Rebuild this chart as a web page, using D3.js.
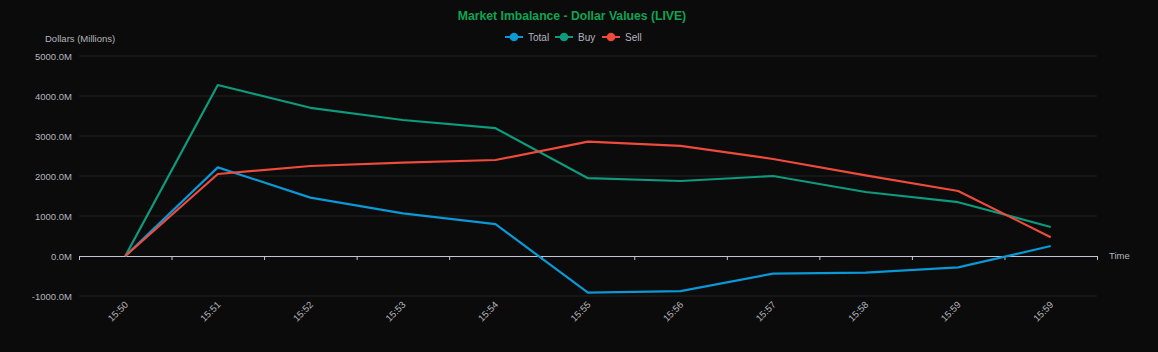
<!DOCTYPE html>
<html>
<head>
<meta charset="utf-8">
<script src="https://cdn.jsdelivr.net/npm/d3@7"></script>
<style>
  html, body { margin: 0; padding: 0; background: #0b0b0b; }
  svg { display: block; font-family: "Liberation Sans", Arial, sans-serif; }
</style>
</head>
<body>
<div id="chart"></div>
<script>
var times = ["15:50", "15:51", "15:52", "15:53", "15:54", "15:55", "15:56", "15:57", "15:58", "15:59", "15:59"];
var totalValues = [0, 2215, 1460, 1065, 795, -915, -880, -440, -415, -285, 250];
var buyValues = [0, 4275, 3705, 3400, 3195, 1945, 1875, 2000, 1600, 1345, 725];
var sellValues = [0, 2050, 2250, 2335, 2400, 2860, 2755, 2425, 2015, 1625, 470];
var yTicks = [-1000, 0, 1000, 2000, 3000, 4000, 5000];

var svgWidth = 1158;
var svgHeight = 352;

var margin = { top: 56, right: 61, bottom: 56, left: 79 };
var width = svgWidth - margin.left - margin.right;
var height = svgHeight - margin.top - margin.bottom;

var series = [
  { name: "Total", color: "#0a98d6", values: totalValues },
  { name: "Buy", color: "#0e9a7c", values: buyValues },
  { name: "Sell", color: "#ee4b3c", values: sellValues }
];

var svg = d3.select("#chart")
  .append("svg")
  .attr("width", svgWidth)
  .attr("height", svgHeight);

svg.append("rect")
  .attr("width", svgWidth)
  .attr("height", svgHeight)
  .attr("fill", "#0b0b0b");

var chartGroup = svg.append("g")
  .attr("transform", `translate(${margin.left}, ${margin.top})`);

// scales
var xBand = d3.scaleBand()
  .domain(d3.range(times.length))
  .range([0, width]);
var yScale = d3.scaleLinear()
  .domain([-1000, 5000])
  .range([height, 0]);

var xCenter = i => xBand(i) + xBand.bandwidth() / 2;

// grid lines
chartGroup.append("g")
  .selectAll("line")
  .data(yTicks.filter(d => d !== 0))
  .enter()
  .append("line")
    .attr("x1", 0)
    .attr("x2", width)
    .attr("y1", d => yScale(d))
    .attr("y2", d => yScale(d))
    .attr("stroke", "#222224")
    .attr("stroke-width", 1);

// y axis labels
var leftAxis = d3.axisLeft(yScale)
  .tickValues(yTicks)
  .tickSize(0)
  .tickPadding(7)
  .tickFormat(d => d.toFixed(1) + "M");
var yAxisG = chartGroup.append("g").call(leftAxis);
yAxisG.select(".domain").remove();
yAxisG.selectAll("text")
  .attr("fill", "#b4b4bc")
  .style("font-size", "9.5px");

// x axis on zero line
var bottomAxis = d3.axisBottom(xBand)
  .tickSize(0)
  .tickFormat(i => times[i]);
var xAxisG = chartGroup.append("g")
  .attr("transform", `translate(0, ${yScale(0)})`)
  .call(bottomAxis);
xAxisG.select(".domain")
  .attr("stroke", "#c4c4d4")
  .attr("stroke-width", 1);
xAxisG.selectAll(".tick text").remove();

// boundary ticks between categories
xAxisG.append("g")
  .selectAll("line")
  .data(d3.range(times.length + 1))
  .enter()
  .append("line")
    .attr("x1", i => i * xBand.step() + 0.5)
    .attr("x2", i => i * xBand.step() + 0.5)
    .attr("y1", 0)
    .attr("y2", 4)
    .attr("stroke", "#c4c4d4");

// x labels below the chart area, rotated
chartGroup.append("g")
  .selectAll("text")
  .data(times)
  .enter()
  .append("text")
    .attr("transform", (d, i) => `translate(${xCenter(i) + 1}, ${height + 7}) rotate(-45)`)
    .attr("text-anchor", "end")
    .attr("dy", "0.35em")
    .attr("fill", "#b4b4bc")
    .style("font-size", "9.5px")
    .text(d => d);

// lines
var line = d3.line()
  .x((d, i) => xCenter(i))
  .y(d => yScale(d));

chartGroup.selectAll(".series")
  .data(series)
  .enter()
  .append("path")
    .attr("class", "series")
    .attr("d", d => line(d.values))
    .attr("fill", "none")
    .attr("stroke", d => d.color)
    .attr("stroke-width", 2.2)
    .attr("stroke-linejoin", "round");

// axis names
chartGroup.append("text")
  .attr("x", -34)
  .attr("y", -14)
  .attr("fill", "#b4b4bc")
  .style("font-size", "9.5px")
  .text("Dollars (Millions)");
chartGroup.append("text")
  .attr("x", width + 12)
  .attr("y", yScale(0))
  .attr("dy", "0.35em")
  .attr("fill", "#b4b4bc")
  .style("font-size", "9.5px")
  .text("Time");

// title
svg.append("text")
  .attr("x", 572)
  .attr("y", 20)
  .attr("text-anchor", "middle")
  .attr("fill", "#0ea452")
  .style("font-size", "12.2px")
  .style("font-weight", "bold")
  .text("Market Imbalance - Dollar Values (LIVE)");

// legend
var legendX = [505, 555, 602];
var legend = svg.append("g")
  .selectAll("g")
  .data(series)
  .enter()
  .append("g")
    .attr("transform", (d, i) => `translate(${legendX[i]}, 37)`);
legend.append("line")
  .attr("x1", 0)
  .attr("x2", 18)
  .attr("stroke", d => d.color)
  .attr("stroke-width", 2);
legend.append("circle")
  .attr("cx", 9)
  .attr("r", 4.3)
  .attr("fill", d => d.color);
legend.append("text")
  .attr("x", 23)
  .attr("dy", "0.35em")
  .attr("fill", "#b4b4bc")
  .style("font-size", "10px")
  .text(d => d.name);
</script>
</body>
</html>
